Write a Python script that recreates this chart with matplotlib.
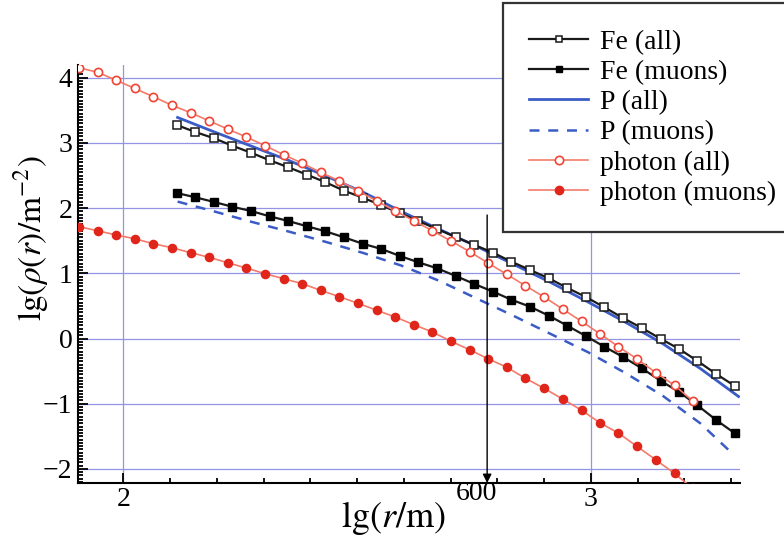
import numpy as np
import matplotlib
matplotlib.use("Agg")
import matplotlib.pyplot as plt
from matplotlib.ticker import MultipleLocator, FixedLocator
from matplotlib.lines import Line2D

plt.rcParams['font.family'] = ['Liberation Serif', 'DejaVu Serif']
plt.rcParams['mathtext.fontset'] = 'stix'
plt.rcParams['axes.unicode_minus'] = True

# ---- data (lg r, lg rho) ----
fe_x = [2.114, 2.154, 2.194, 2.233, 2.273, 2.313, 2.353, 2.393, 2.432, 2.472,
        2.512, 2.552, 2.592, 2.631, 2.671, 2.711, 2.751, 2.791, 2.830, 2.870,
        2.910, 2.950, 2.990, 3.029, 3.069, 3.109, 3.149, 3.189, 3.228, 3.268, 3.308]
fe_all = [3.275, 3.167, 3.071, 2.957, 2.850, 2.733, 2.626, 2.512, 2.398, 2.267,
          2.160, 2.043, 1.920, 1.802, 1.680, 1.557, 1.434, 1.316, 1.178, 1.051,
          0.923, 0.775, 0.634, 0.478, 0.314, 0.161, -0.003, -0.161, -0.345, -0.544, -0.728]
fe_muons = [2.232, 2.166, 2.094, 2.021, 1.956, 1.874, 1.802, 1.721, 1.645, 1.552,
            1.454, 1.373, 1.265, 1.169, 1.077, 0.959, 0.836, 0.718, 0.595, 0.488,
            0.350, 0.195, 0.035, -0.126, -0.284, -0.457, -0.647, -0.821, -1.025, -1.250, -1.454]

p_x = [2.116, 2.194, 2.274, 2.354, 2.434, 2.514, 2.594, 2.674, 2.754, 2.834,
       2.914, 2.994, 3.074, 3.154, 3.234, 3.316]
p_all = [3.39, 3.17, 2.95, 2.73, 2.49, 2.24, 1.95, 1.68, 1.42, 1.14,
         0.86, 0.56, 0.25, -0.08, -0.46, -0.89]
p_mx = [2.116, 2.194, 2.274, 2.354, 2.434, 2.514, 2.594, 2.674, 2.754, 2.834,
        2.914, 2.994, 3.074, 3.154, 3.234, 3.305]
p_muons = [2.10, 1.95, 1.79, 1.64, 1.48, 1.31, 1.12, 0.89, 0.62, 0.35,
           0.07, -0.21, -0.53, -0.88, -1.30, -1.78]

ph_x = [1.905, 1.945, 1.985, 2.024, 2.064, 2.104, 2.144, 2.184, 2.223, 2.263,
        2.303, 2.343, 2.383, 2.422, 2.462, 2.502, 2.542, 2.582, 2.621, 2.661,
        2.701, 2.741, 2.781, 2.820, 2.860, 2.900, 2.940, 2.980, 3.019, 3.059,
        3.099, 3.139, 3.179, 3.218]
ph_all = [4.153, 4.083, 3.960, 3.837, 3.709, 3.577, 3.463, 3.336, 3.213, 3.091,
          2.958, 2.819, 2.687, 2.548, 2.416, 2.267, 2.109, 1.956, 1.807, 1.653,
          1.495, 1.331, 1.153, 0.985, 0.810, 0.637, 0.450, 0.263, 0.074, -0.126,
          -0.314, -0.524, -0.718, -0.959]
ph_muons = [1.715, 1.653, 1.587, 1.531, 1.454, 1.393, 1.316, 1.245, 1.163, 1.081,
            0.994, 0.917, 0.840, 0.739, 0.641, 0.540, 0.433, 0.328, 0.213, 0.100,
            -0.043, -0.174, -0.314, -0.440, -0.610, -0.764, -0.930, -1.099, -1.291, -1.451,
            -1.656, -1.861, -2.070, -2.300]

labels = ["Fe (all)", "Fe (muons)", "P (all)", "P (muons)", "photon (all)", "photon (muons)"]
x_major = [2, 3]
y_major = [-2, -1, 0, 1, 2, 3, 4]
arrow_r = 600

# ---- styles ----
BLACK = '#1a1a1a'
BLUE = '#3b5cc6'
SALMON = '#f47a6a'
RED_EDGE = '#f04535'
RED_FILL = '#e0251a'
GRID = '#9494e6'

fig = plt.figure(figsize=(7.84, 5.48), dpi=100)
W, H = 784, 548
ax = fig.add_axes([78 / W, 1 - 483 / H, (740 - 78) / W, (483 - 65) / H])

ax.set_xlim(1.903, 3.319)
ax.set_ylim(-2.216, 4.195)

for yv in y_major:
    ax.axhline(yv, color=GRID, lw=0.9, zorder=0)
for xv in x_major:
    ax.axvline(xv, color=GRID, lw=0.9, zorder=0)

ms = 5.6
ax.plot(fe_x, fe_all, color=BLACK, lw=1.6, marker='s', ms=ms, mfc='white',
        mec=BLACK, mew=1.1, zorder=4)
ax.plot(fe_x, fe_muons, color=BLACK, lw=1.6, marker='s', ms=ms, mfc='black',
        mec='black', zorder=4)
ax.plot(p_x, p_all, color=BLUE, lw=2.0, zorder=3)
ax.plot(p_mx, p_muons, color=BLUE, lw=1.8, ls=(0, (4, 3.5)), zorder=3)
ax.plot(ph_x, ph_all, color=SALMON, lw=1.2, marker='o', ms=ms + 0.3, mfc='white',
        mec=RED_EDGE, mew=1.2, zorder=5)
ax.plot(ph_x, ph_muons, color=SALMON, lw=1.2, marker='o', ms=ms + 0.3, mfc=RED_FILL,
        mec=RED_FILL, zorder=5)

# arrow at r = 600 m
lg600 = np.log10(arrow_r)
ax.annotate('', xy=(lg600, -2.216), xytext=(lg600, 1.894),
            arrowprops=dict(arrowstyle='-|>', color='black', lw=1.0,
                            mutation_scale=13, shrinkA=0, shrinkB=0),
            zorder=6, annotation_clip=False)

# spines / ticks
ax.spines['top'].set_visible(False)
ax.spines['right'].set_visible(False)
ax.spines['left'].set_linewidth(1.5)
ax.spines['bottom'].set_linewidth(1.5)
ax.xaxis.set_major_locator(FixedLocator(x_major))
ax.xaxis.set_minor_locator(MultipleLocator(0.1))
ax.yaxis.set_major_locator(FixedLocator(y_major))
ax.yaxis.set_minor_locator(MultipleLocator(0.05))
ax.tick_params(axis='both', which='major', direction='in', length=7, width=1.3,
               labelsize=20, color='black')
ax.tick_params(axis='both', which='minor', direction='in', length=3.5, width=1.3,
               color='black')
ax.tick_params(axis='x', which='major', pad=3)
ax.tick_params(axis='y', which='major', pad=4)
ax.set_xticklabels(['2', '3'])
ax.set_yticklabels(['\u22122', '\u22121', '0', '1', '2', '3', '4'])

# labels
fig.text(393 / W, 1 - 518 / H, r'$\mathrm{lg}(r/\mathrm{m})$', fontsize=26,
         ha='center', va='center')
fig.text(476 / W, 1 - 494 / H, '600', fontsize=20, ha='center', va='center')
fig.text(31 / W, 1 - 238 / H, r'$\mathrm{lg}(\rho(r)/\mathrm{m}^{-2})$', fontsize=24,
         rotation=90, ha='center', va='center')

# legend
handles = [
    Line2D([], [], color=BLACK, lw=1.6, marker='s', ms=5, mfc='white', mec=BLACK, mew=1.1),
    Line2D([], [], color=BLACK, lw=1.6, marker='s', ms=5, mfc='black', mec='black'),
    Line2D([], [], color=BLUE, lw=2.0),
    Line2D([], [], color=BLUE, lw=1.8, ls=(0, (4, 3.5))),
    Line2D([], [], color=SALMON, lw=1.2, marker='o', ms=6, mfc='white', mec=RED_EDGE, mew=1.2),
    Line2D([], [], color=SALMON, lw=1.2, marker='o', ms=6, mfc=RED_FILL, mec=RED_FILL),
]
leg = fig.legend(handles, labels, loc='upper left',
                 bbox_to_anchor=(503 / W, 1 - 3 / H), bbox_transform=fig.transFigure,
                 frameon=True, fancybox=False, edgecolor='#333333', facecolor='white',
                 framealpha=1, fontsize=20, borderpad=0.95, handlelength=2.1,
                 handletextpad=0.45, labelspacing=0.17, borderaxespad=0, numpoints=1)
leg.get_frame().set_linewidth(1.6)

fig.savefig('out.png', dpi=100)
